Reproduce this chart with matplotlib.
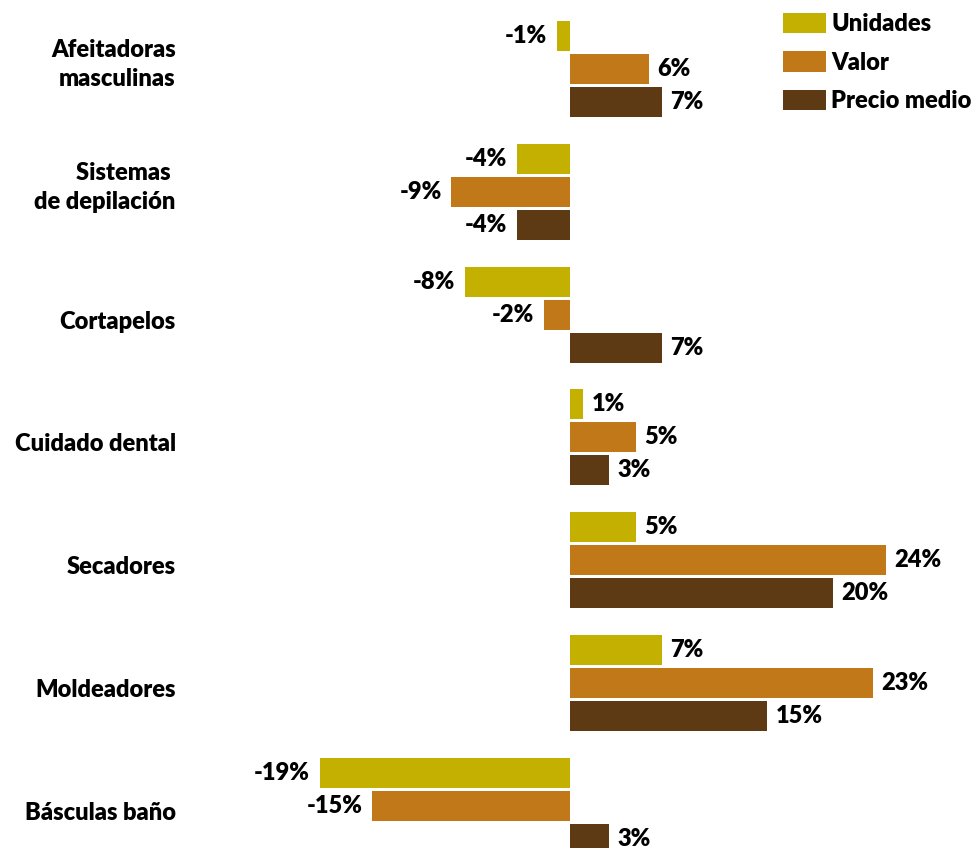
import numpy as np
import matplotlib
matplotlib.use("Agg")
import matplotlib.pyplot as plt

categorias = ["Afeitadoras\nmasculinas", "Sistemas \nde depilación", "Cortapelos",
              "Cuidado dental", "Secadores", "Moldeadores", "Básculas baño"]
unidades = [-1, -4, -8, 1, 5, 7, -19]
valor = [6, -9, -2, 5, 24, 23, -15]
precio_medio = [7, -4, 7, 3, 20, 15, 3]
series = ["Unidades", "Valor", "Precio medio"]

colores = ["#C4B000", "#C07818", "#5E3A14"]

plt.rcParams['font.family'] = ['Lato', 'DejaVu Sans']

fig = plt.figure(figsize=(9.74, 8.48), dpi=100)
ax = fig.add_axes([0, 0, 1, 1])

y = np.arange(len(categorias))
paso = 0.2687
alto = 0.244
fs = 17
peso = 'heavy'

for k, (vals, nombre) in enumerate(zip([unidades, valor, precio_medio], series)):
    pos = y + (k - 1) * paso
    ax.barh(pos, vals, height=alto, color=colores[k], label=nombre)
    for p, v in zip(pos, vals):
        if v >= 0:
            ax.text(v + 0.65, p, f"{v}%", ha='left', va='center', fontsize=fs,
                    fontweight=peso)
        else:
            ax.text(v - 0.75, p, f"{v}%", ha='right', va='center', fontsize=fs,
                    fontweight=peso)

# one-line labels sit a little below the middle bar, two-line a little above
for yi, cat in zip(y, categorias):
    dy = -0.035 if "\n" in cat else 0.057
    ax.text(-29.95, yi + dy, cat, ha='right', va='center', fontsize=fs,
            fontweight=peso, linespacing=1.38)

ax.set_xlim(-43.3, 30.7)
ax.set_ylim(6.3436, -0.5619)
ax.axis('off')

leg = ax.legend(loc='upper left', bbox_to_anchor=(783 / 974, 1 - 13 / 848),
                frameon=False, fontsize=fs, handlelength=1.8, handleheight=0.95,
                handletextpad=0.25, labelspacing=0.68, borderpad=0, borderaxespad=0)
for t in leg.get_texts():
    t.set_fontweight(peso)

fig.savefig("out.png", dpi=100)
